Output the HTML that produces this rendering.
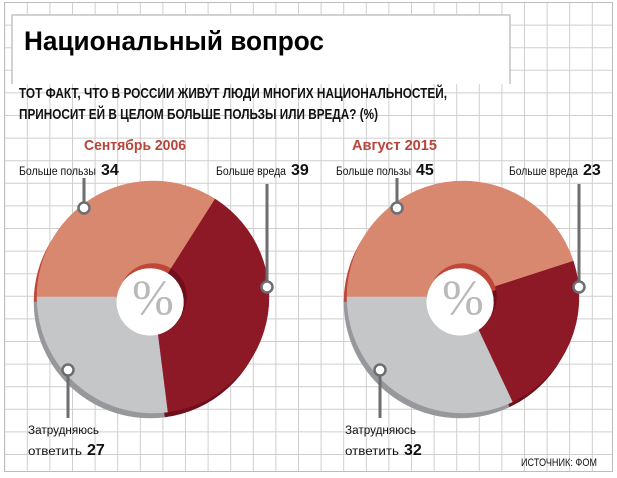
<!DOCTYPE html>
<html><head><meta charset="utf-8">
<style>
html,body{margin:0;padding:0;background:#fff;}
svg{display:block;font-family:"Liberation Sans","DejaVu Sans",sans-serif;}
</style></head>
<body>
<svg id="chart" width="617" height="478" viewBox="0 0 617 478" xmlns="http://www.w3.org/2000/svg">
  <rect x="0" y="0" width="617" height="478" fill="#fff"/>
  <g id="grid"></g>
  <rect x="4.5" y="2.5" width="608" height="469" fill="none" stroke="#bdbdbd" stroke-width="1"/>
  <path d="M12 84 V15 H510 V84" fill="#fff" stroke="#c4c4c4" stroke-width="1.5"/>
  <text x="24" y="50" font-size="27" font-weight="bold" fill="#000" textLength="300" lengthAdjust="spacingAndGlyphs">Национальный вопрос</text>
  <text x="19" y="98" font-size="15" font-weight="bold" fill="#111" textLength="428" lengthAdjust="spacingAndGlyphs">ТОТ ФАКТ, ЧТО В РОССИИ ЖИВУТ ЛЮДИ МНОГИХ НАЦИОНАЛЬНОСТЕЙ,</text>
  <text x="19" y="119" font-size="15" font-weight="bold" fill="#111" textLength="359" lengthAdjust="spacingAndGlyphs">ПРИНОСИТ ЕЙ В ЦЕЛОМ БОЛЬШЕ ПОЛЬЗЫ ИЛИ ВРЕДА? (%)</text>
  <text x="84" y="150" font-size="15" font-weight="bold" fill="#b8443a" textLength="102" lengthAdjust="spacingAndGlyphs">Сентябрь 2006</text>
  <text x="352" y="150" font-size="15" font-weight="bold" fill="#b8443a" textLength="85" lengthAdjust="spacingAndGlyphs">Август 2015</text>
  <g id="donuts"></g>
  <text x="521" y="466" font-size="11" fill="#111" textLength="76" lengthAdjust="spacingAndGlyphs">ИСТОЧНИК: ФОМ</text>
</svg>
<script>
const categories = ["Больше пользы", "Больше вреда", "Затрудняюсь ответить"];
const values2006 = [34, 39, 27];
const values2015 = [45, 23, 32];

const NS = "http://www.w3.org/2000/svg";
const svg = document.getElementById("chart");
const grid = document.getElementById("grid");
for (let x = 4.7; x < 612; x += 22.6) {
  const l = document.createElementNS(NS, "line");
  
  
  l.setAttribute("x1", x); l.setAttribute("x2", x);
  l.setAttribute("y1", 2); l.setAttribute("y2", 472);
  l.setAttribute("stroke", "#cfcfcf"); l.setAttribute("stroke-width", "1");
  grid.appendChild(l);
}
for (let y = 2.5; y < 472; y += 22.6) {
  const l = document.createElementNS(NS, "line");
  
  
  l.setAttribute("x1", 4.5); l.setAttribute("x2", 612);
  l.setAttribute("y1", y); l.setAttribute("y2", y);
  l.setAttribute("stroke", "#cfcfcf"); l.setAttribute("stroke-width", "1");
  grid.appendChild(l);
}

const topColors = ["#d98870", "#8d1826", "#c5c6c8"];
const rimColors = ["#c0463a", "#6e0f1b", "#97989b"];
const sliceNames = ["slice-more-benefit", "slice-more-harm", "slice-hard-to-say"];
const START = 270; // degrees clockwise from 12 o'clock

function pt(cx, cy, r, deg) {
  const a = deg * Math.PI / 180;
  return [cx + r * Math.sin(a), cy - r * Math.cos(a)];
}
function arcPath(cx, cy, R, r, a0, a1) {
  const large = (a1 - a0) > 180 ? 1 : 0;
  const p0 = pt(cx, cy, R, a0), p1 = pt(cx, cy, R, a1);
  const q1 = pt(cx, cy, r, a1), q0 = pt(cx, cy, r, a0);
  return `M${p0[0]} ${p0[1]} A${R} ${R} 0 ${large} 1 ${p1[0]} ${p1[1]} L${q1[0]} ${q1[1]} A${r} ${r} 0 ${large} 0 ${q0[0]} ${q0[1]} Z`;
}
function valueToAngle(v, total) { return v / total * 360; }

function drawDonut(values, cx, cy, key) {
  const g = document.createElementNS(NS, "g");
  
  
  svg.insertBefore(g, document.getElementById("donuts"));
  const total = values.reduce((a, b) => a + b, 0);
  const R = 116, r = 34;
  [[-3, 5, rimColors, "rim"], [0, 0, topColors, "top"]].forEach(([dx, dy, cols, layer]) => {
    let a = START;
    values.forEach((v, i) => {
      const sweep = valueToAngle(v, total);
      const p = document.createElementNS(NS, "path");
      
      
      p.setAttribute("d", arcPath(cx + dx, cy + dy, R, r, a, a + sweep));
      p.setAttribute("fill", cols[i]);
      p.setAttribute("stroke", cols[i]);
      p.setAttribute("stroke-width", "0.5");
      g.appendChild(p);
      a += sweep;
    });
  });
  // hole (visible through top donut) - white center
  const hole = document.createElementNS(NS, "circle");
  
  
  hole.setAttribute("cx", cx - 3); hole.setAttribute("cy", cy + 5);
  hole.setAttribute("r", r - 0.5); hole.setAttribute("fill", "#fff");
  g.appendChild(hole);
  const pc = document.createElementNS(NS, "text");
  
  
  pc.setAttribute("x", cx); pc.setAttribute("y", cy + 17);
  pc.setAttribute("text-anchor", "middle");
  pc.setAttribute("font-size", "50");
  pc.setAttribute("font-family", "Liberation Serif, serif");
  pc.setAttribute("fill", "#b9b9bb");
  pc.textContent = "%";
  g.appendChild(pc);
}

function addCallout(key, name, lx, y1, cy2, reverse) {
  const l = document.createElementNS(NS, "line");
  
  
  l.setAttribute("x1", lx); l.setAttribute("x2", lx);
  l.setAttribute("y1", y1); l.setAttribute("y2", cy2);
  l.setAttribute("stroke", "#6d6e70"); l.setAttribute("stroke-width", "3");
  svg.appendChild(l);
  const c = document.createElementNS(NS, "circle");
  
  
  c.setAttribute("cx", lx); c.setAttribute("cy", reverse ? y1 : cy2);
  c.setAttribute("r", "5.5"); c.setAttribute("fill", "#fff");
  c.setAttribute("stroke", "#6d6e70"); c.setAttribute("stroke-width", "2.5");
  svg.appendChild(c);
}
function addLabel(name, x, y, txt, w, num) {
  const t = document.createElementNS(NS, "text");
  
  
  t.setAttribute("x", x); t.setAttribute("y", y);
  t.setAttribute("font-size", "11.5"); t.setAttribute("fill", "#111");
  if (w) { t.setAttribute("textLength", w); t.setAttribute("lengthAdjust", "spacingAndGlyphs"); }
  t.textContent = txt;
  svg.appendChild(t);
  if (num !== undefined) {
    const n = document.createElementNS(NS, "text");
    
    
    n.setAttribute("x", x + w + 5); n.setAttribute("y", y);
    n.setAttribute("font-size", "16"); n.setAttribute("font-weight", "bold"); n.setAttribute("fill", "#111");
    n.textContent = num;
    svg.appendChild(n);
  }
}

drawDonut(values2006, 153, 297, "2006");
drawDonut(values2015, 463, 297, "2015");

// 2006 labels
addCallout("2006", "benefit", 84, 178, 208, false);
addCallout("2006", "harm", 267, 184, 287, false);
addCallout("2006", "hard", 68, 370, 418, true);
addLabel("label-benefit-2006", 19, 175, categories[0], 77, values2006[0]);
addLabel("label-harm-2006", 216, 175, categories[1], 70, values2006[1]);
addLabel("label-hard-2006-line1", 28, 434, "Затрудняюсь", 71);
addLabel("label-hard-2006", 28, 455, "ответить", 54, values2006[2]);

// 2015 labels
addCallout("2015", "benefit", 397, 178, 208, false);
addCallout("2015", "harm", 579, 184, 287, false);
addCallout("2015", "hard", 380, 370, 418, true);
addLabel("label-benefit-2015", 336, 175, categories[0], 75, values2015[0]);
addLabel("label-harm-2015", 509, 175, categories[1], 69, values2015[1]);
addLabel("label-hard-2015-line1", 345, 434, "Затрудняюсь", 71);
addLabel("label-hard-2015", 345, 455, "ответить", 54, values2015[2]);
</script>
</body></html>
